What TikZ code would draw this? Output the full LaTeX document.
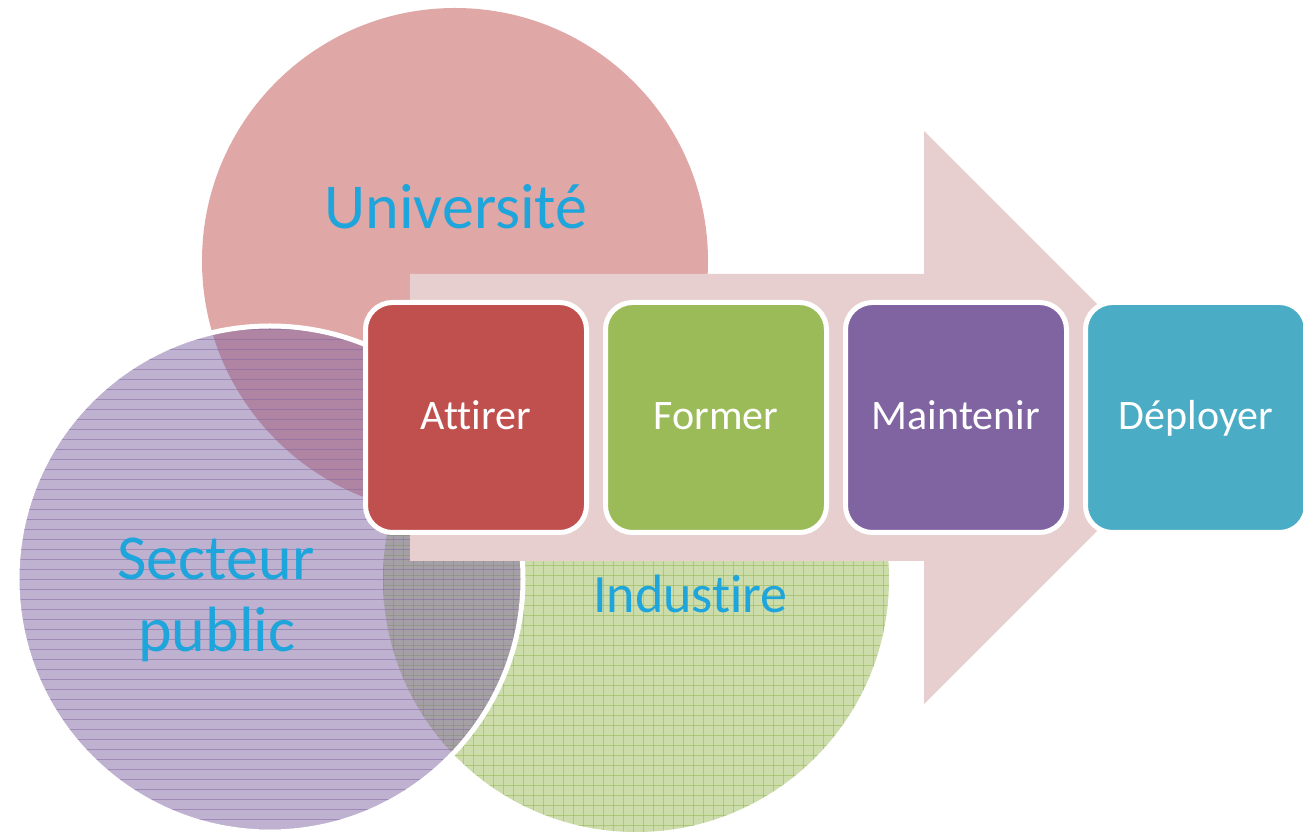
\documentclass[tikz,border=0pt]{standalone}
\usepackage{fontspec}
\setmainfont{Carlito}[Ligatures={NoCommon,NoRare,NoContextual}]
\definecolor{cred}{HTML}{C0504D}
\definecolor{cgreen}{HTML}{9BBB59}
\definecolor{cpurple}{HTML}{8064A2}
\definecolor{cblue}{HTML}{4BACC6}
\definecolor{carrow}{HTML}{E8CFCF}
\definecolor{ctext}{RGB}{30,165,220}
\begin{document}
\begin{tikzpicture}[x=0.5pt,y=-0.5pt,
  venn/.style={circle, inner sep=0pt, minimum size=253pt},
  stepbox/.style={rectangle, rounded corners=13.5pt, draw=white, line width=2.5pt,
    minimum width=110.5pt, minimum height=115pt, inner sep=0pt, text=white,
    font=\fontsize{21}{25}\selectfont, text height=12.5pt, text depth=0pt},
  lbl/.style={text=ctext, anchor=base, inner sep=0pt},
  big/.style={font=\fontsize{32}{38}\selectfont}]
\useasboundingbox (0,0) rectangle (1303,833);
\fill[white] (0,0) rectangle (1303,833);
% Venn circles
\node[venn, fill=cred, fill opacity=0.5] (univ) at (455,261) {};
\node[venn, fill=cgreen, fill opacity=0.5] (indus) at (636,579) {};
\begin{scope}
  \clip (indus.center) circle[radius=253];
  \foreach \k in {0,...,51} {
    \draw[cgreen, opacity=0.6, line width=0.5pt] (383+10*\k,320) -- (383+10*\k,840);
    \draw[cgreen, opacity=0.6, line width=0.5pt] (380,326+10*\k) -- (895,326+10*\k);
  }
\end{scope}
\node[venn, fill=cpurple, fill opacity=0.5] (sect) at (270,579) {};
\begin{scope}
  \clip (sect.center) circle[radius=253];
  \foreach \k in {0,...,51} {
    \draw[cpurple, opacity=0.5, line width=0.5pt] (10,330+10*\k) -- (530,330+10*\k);
  }
\end{scope}
\draw[white, line width=2.5pt] (sect.center) circle[radius=253];
% big arrow
\fill[carrow] (410,274) -- (924,274) -- (924,131) -- (1210.5,417.5) -- (924,704) -- (924,561) -- (410,561) -- cycle;
% steps
\node[stepbox, fill=cred] (attirer) at (476,417.5) {Attirer};
\node[stepbox, fill=cgreen] (former) at (716,417.5) {Former};
\node[stepbox, fill=cpurple] (maintenir) at (956,417.5) {Maintenir};
\node[stepbox, fill=cblue] (deployer) at (1196,417.5) {Déployer};
% labels
\node[lbl, big] (luniv) at (456,229) {Université};
\node[lbl, big] (lsecta) at (216,580) {Secteur};
\node[lbl, big] (lsectb) at (217,652) {public};
\node[lbl, font=\fontsize{27}{32}\selectfont] (lindus) at (690.5,613) {Industire};
\end{tikzpicture}
\end{document}
